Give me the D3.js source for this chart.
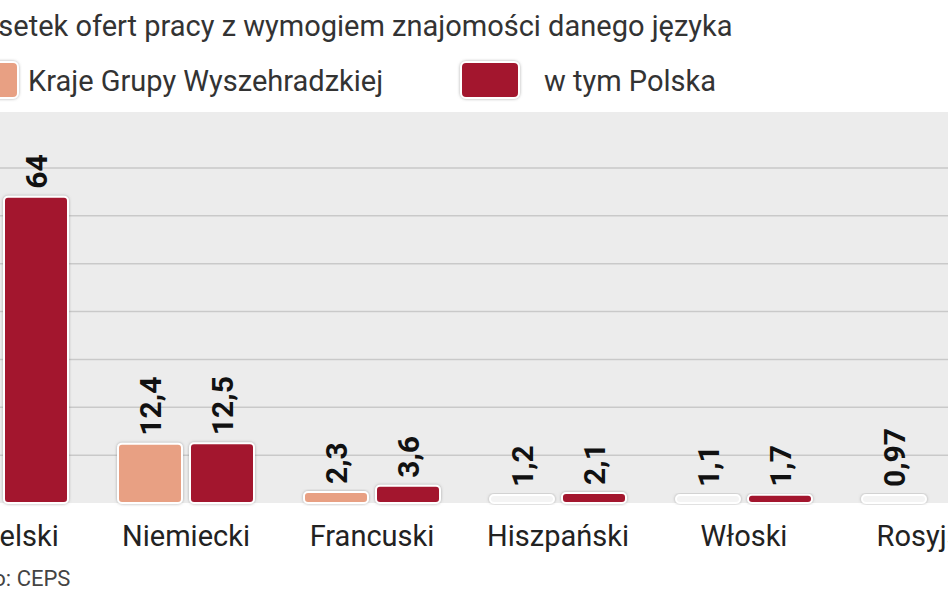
<!DOCTYPE html>
<html><head><meta charset="utf-8">
<script src="https://cdn.jsdelivr.net/npm/d3@7"></script>
<style>body{margin:0;background:#fff}svg{display:block;font-family:Roboto,"Open Sans",sans-serif}</style>
</head><body><svg id="c" width="948" height="593"></svg>
<script>
const categories=["Angielski","Niemiecki","Francuski","Hiszpański","Włoski","Rosyjski"];
const v4Values=[51.9,12.4,2.3,1.2,1.1,0.97];
const polandValues=[64,12.5,3.6,2.1,1.7,null];
const v4Labels=["51,9","12,4","2,3","1,2","1,1","0,97"];
const polandLabels=["64","12,5","3,6","2,1","1,7",""];
const gridTicks=[10,20,30,40,50,60,70];

const svg=d3.select("#c");
const defs=svg.append("defs");
const f=defs.append("filter").attr("id","sh").attr("x","-20%").attr("y","-20%").attr("width","140%").attr("height","140%");
f.append("feDropShadow").attr("dx",0).attr("dy",0).attr("stdDeviation",1.5).attr("flood-color","#777").attr("flood-opacity",0.6);

const x=d3.scaleBand().domain(categories).range([-93,1023]).paddingInner(0);
const y=d3.scaleLinear().domain([0,70]).range([503,168]);

svg.append("rect").attr("x",0).attr("y",112).attr("width",948).attr("height",y(0)-112).attr("fill","#ececec");
svg.selectAll("line.g").data(gridTicks).join("line").attr("x1",0).attr("x2",948)
 .attr("y1",d=>y(d)).attr("y2",d=>y(d)).attr("stroke","#c9c9c9").attr("stroke-width",1.5);

const bw=64,gap=8;
function barH(v){return Math.max(y(0)-y(v),8);}
const g=svg.append("g");
categories.forEach((c,i)=>{
  const cx=x(c)+x.bandwidth()/2;
  [[v4Values[i],v4Labels[i],cx-bw-gap/2,"#e8a083"],[polandValues[i],polandLabels[i],cx+gap/2,"#a3192f"]].forEach(([v,l,x0,col])=>{
    if(v==null)return;
    const h=barH(v);
    g.append("rect").attr("x",x0).attr("y",y(0)-h).attr("width",bw).attr("height",h).attr("rx",4)
      .attr("fill",v<2.1&&col=="#e8a083"?"#f4f4f4":col).attr("stroke","#fff").attr("stroke-width",2).attr("filter","url(#sh)");
    const ty=y(0)-h-8;
    g.append("text").attr("transform",`translate(${x0+bw/2+11},${ty}) rotate(-90)`)
      .attr("font-size",30).attr("font-weight",700).attr("fill","#111").text(l);
  });
  svg.append("text").attr("x",cx).attr("y",546).attr("text-anchor","middle").attr("font-size",29).attr("fill","#222").text(c);
});

svg.append("text").attr("x",-38).attr("y",36).attr("font-size",29).attr("fill","#333").text("Odsetek ofert pracy z wymogiem znajomości danego języka");
svg.append("rect").attr("x",-40).attr("y",62).attr("width",58).attr("height",36).attr("rx",5).attr("fill","#e8a083").attr("stroke","#fff").attr("stroke-width",2).attr("filter","url(#sh)");
svg.append("text").attr("x",28).attr("y",91).attr("font-size",29).attr("fill","#333").text("Kraje Grupy Wyszehradzkiej");
svg.append("rect").attr("x",461).attr("y",62).attr("width",58).attr("height",36).attr("rx",5).attr("fill","#a3192f").attr("stroke","#fff").attr("stroke-width",2).attr("filter","url(#sh)");
svg.append("text").attr("x",544).attr("y",91).attr("font-size",29).attr("fill","#333").text("w tym Polska");
svg.append("text").attr("x",-58).attr("y",586).attr("font-size",22).attr("fill","#444").text("Źródło: CEPS");
</script></body></html>
